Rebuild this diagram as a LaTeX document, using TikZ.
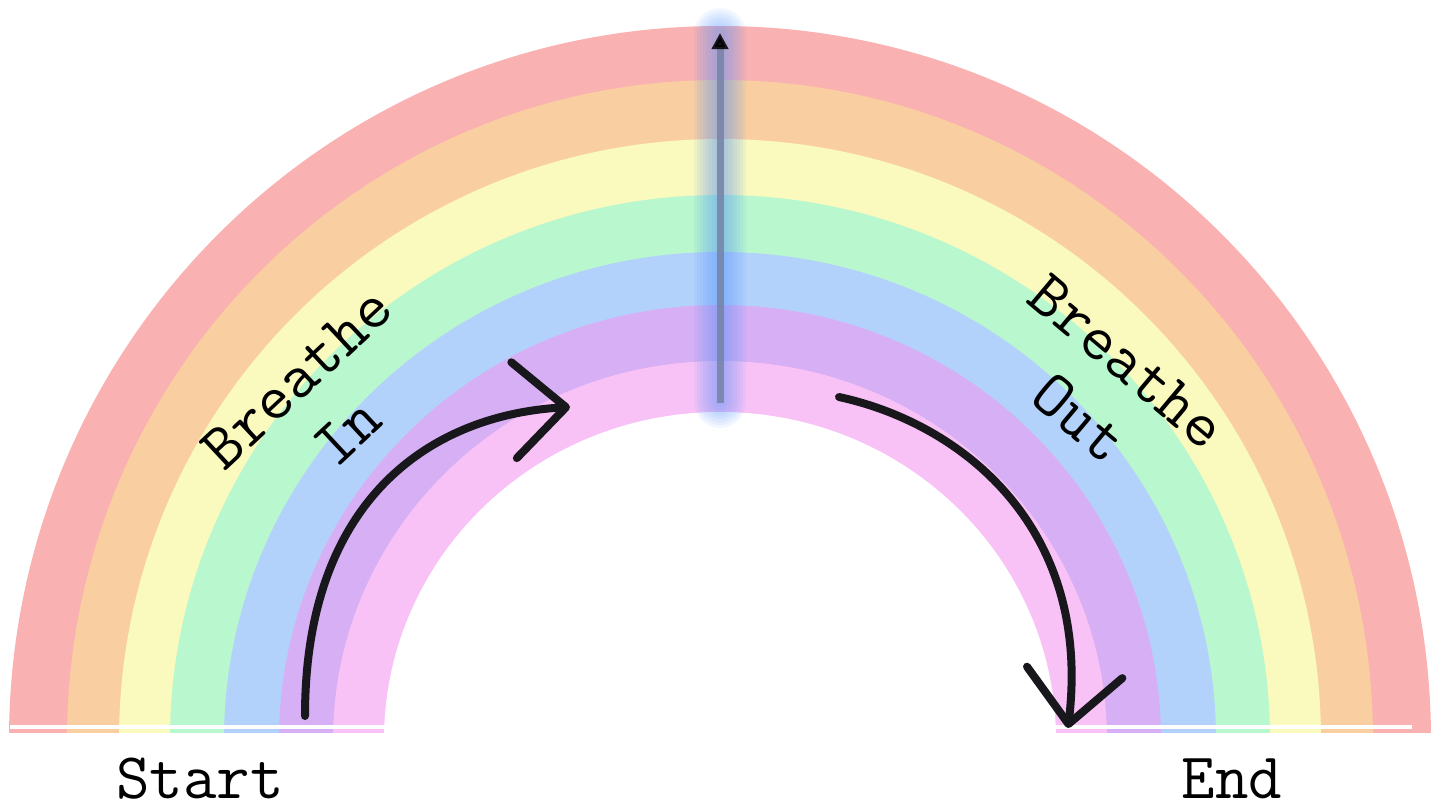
\documentclass[tikz,border=0pt]{standalone}
\usepackage{fontspec}
\usetikzlibrary{arrows.meta}

\definecolor{bandred}{RGB}{249,177,177}
\definecolor{bandorange}{RGB}{249,206,161}
\definecolor{bandyellow}{RGB}{250,249,190}
\definecolor{bandgreen}{RGB}{185,247,206}
\definecolor{bandblue}{RGB}{179,210,251}
\definecolor{bandpurple}{RGB}{214,175,244}
\definecolor{bandpink}{RGB}{248,194,246}
\definecolor{glowblue}{RGB}{90,150,255}
\definecolor{barline}{RGB}{118,130,165}
\definecolor{ink}{RGB}{24,24,28}

\begin{document}
\begin{tikzpicture}[x=1pt,y=-1pt,
  breath/.style={font=\fontsize{65}{74}\selectfont\ttfamily, align=center, inner sep=0pt},
  endtext/.style={font=\fontsize{65}{74}\selectfont\ttfamily, inner sep=0pt, anchor=base},
  flow/.style={line width=8pt, line cap=round, line join=round, draw=ink,
    -{Straight Barb[length=52pt,width=96pt,round]}},
]
\useasboundingbox (0,0) rectangle (1441,803);

% rainbow bands, cut flat along the ground line
\begin{scope}
  \clip (0,0) rectangle (1441,732);
  \foreach \c/\rx/\ry in {bandred/711/714, bandorange/653/660, bandyellow/601/601,
      bandgreen/550/545, bandblue/496/488, bandpurple/441/435, bandpink/387/379, white/336/328}
    \fill[\c] (720,740) ellipse [x radius=\rx, y radius=\ry];
\end{scope}

% ground line
\fill[white] (10,725) rectangle (386,729);
\fill[white] (1053,725) rectangle (1412,729);

% soft glow behind the marker
\foreach \h in {26,23,20,17,14,11,8,5}
  \fill[glowblue, opacity=0.08, rounded corners=\h pt] (720-\h,34-\h) rectangle (720+\h,402+\h);

% centre marker
\coordinate (barBase) at (720,403);
\coordinate (barTop) at (720,33);
\draw[line width=7pt, draw=barline, opacity=0.85,
  -{Triangle[length=16pt,width=16pt,color=black]}] (barBase) -- (barTop);

% labels
\node[endtext] (startlbl) at (200,798) {Start};
\node[endtext] (endlbl) at (1232,798) {End};
\node[breath, rotate=43] (inlbl) at (322,405) {Breathe\\In};
\node[breath, rotate=-40] (outlbl) at (1103,390) {Breathe\\Out};

% breathing arrows
\coordinate (inTail) at (305,716);
\coordinate (inTip) at (570,407);
\draw[flow] (inTail) .. controls (305,500) and (430,415) .. (inTip);
\coordinate (outTail) at (839,397);
\coordinate (outTip) at (1068,728);
\draw[flow] (outTail) .. controls (963,424) and (1092,528) .. (outTip);
\end{tikzpicture}
\end{document}
